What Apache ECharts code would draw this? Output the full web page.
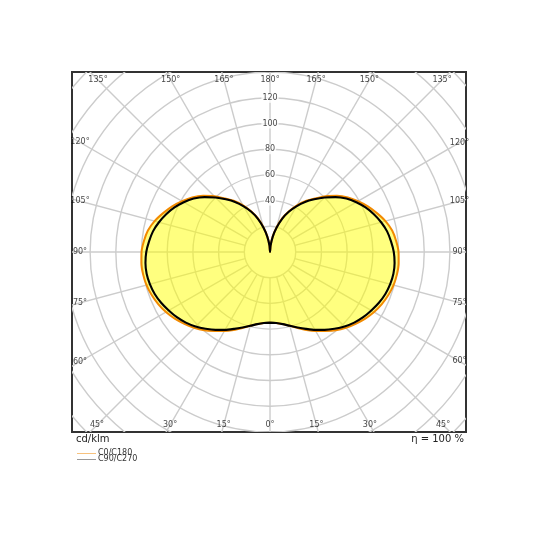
<!DOCTYPE html>
<html>
<head>
<meta charset="utf-8">
<script src="https://cdn.jsdelivr.net/npm/echarts@6/dist/echarts.min.js"></script>
<style>
  html, body { margin: 0; padding: 0; background: #fff; }
  #chart-container { width: 540px; height: 540px; }
</style>
</head>
<body>
<div id="chart-container"></div>
<script>
// gamma angles (0 = nadir, 180 = zenith) and intensities in cd/klm
var gammaDeg = [0, 5, 10, 15, 20, 25, 30, 35, 40, 45, 50, 55, 60, 65, 70, 75, 80, 85, 90,
  95, 100, 105, 110, 115, 120, 125, 130, 135, 140, 145, 150, 155, 160, 165, 170, 175, 180];
var c0c180 = [55, 55.5, 57, 59.5, 63, 67, 71, 75, 79.5, 83.5, 87, 90.5, 93.5, 96, 98, 99.5, 100.3, 100.5, 100,
  98.5, 96.5, 93, 88.5, 84, 79, 74, 68, 61.5, 54.5, 48.5, 42, 35, 28, 20, 12.5, 5, 0];
var c90c270 = [55, 55.5, 57, 59.5, 62.5, 66, 70, 74, 78, 82, 85.5, 88.5, 91, 93.5, 95.5, 96.8, 97.5, 97.3, 96.3,
  94.5, 92.5, 89.5, 86, 82, 77.5, 72.5, 66.5, 60, 53.5, 47.5, 41, 34.5, 27.5, 19.5, 12, 5, 0];

// grid
var ringValues = [20, 40, 60, 80, 100, 120, 140, 160, 180, 200, 220, 240];
var ringLabels = [40, 60, 80, 100, 120];
var angleTicks = [0, 15, 30, 45, 60, 75, 90, 105, 120, 135, 150, 165, 180];

var xMin = -154.1, xMax = 152.5, yMin = -140.1, yMax = 140.1;
var pxPerUnit = 394 / (xMax - xMin);

function toXY(g, v, side) {
  var a = g * Math.PI / 180;
  return [side * v * Math.sin(a), -v * Math.cos(a)];
}

// right half is C0 / C90, left half mirrored C180 / C270
function curve(values) {
  var pts = [];
  for (var i = 0; i < gammaDeg.length; i++) pts.push(toXY(gammaDeg[i], values[i], 1));
  for (var j = gammaDeg.length - 1; j >= 0; j--) pts.push(toXY(gammaDeg[j], values[j], -1));
  return pts;
}
var orangePts = curve(c0c180);
var blackPts = curve(c90c270);

// spokes every 15 degrees all round
var spokes = [];
angleTicks.forEach(function (g) {
  spokes.push([g, 1]);
  if (g > 0 && g < 180) spokes.push([g, -1]);
});

// angle labels sit on each spoke just inside the frame
function labelPos(g, side) {
  var d = toXY(g, 1, side);
  var insL = 8 / pxPerUnit, insR = 6.5 / pxPerUnit, insT = 8 / pxPerUnit, insB = 7 / pxPerUnit;
  var t = Infinity;
  if (d[0] > 1e-9) t = Math.min(t, (xMax - insR) / d[0]);
  if (d[0] < -1e-9) t = Math.min(t, (xMin + insL) / d[0]);
  if (d[1] > 1e-9) t = Math.min(t, (yMax - insT) / d[1]);
  if (d[1] < -1e-9) t = Math.min(t, (yMin + insB) / d[1]);
  return [d[0] * t, d[1] * t, g];
}
var angleLabelData = spokes.map(function (s) { return labelPos(s[0], s[1]); });

var dom = document.getElementById("chart-container");
var myChart = echarts.init(dom, null, { renderer: "canvas" });

var option = {
  animation: false,
  grid: {
    left: 72, right: 74, top: 72, bottom: 108,
    show: true, borderColor: "#333", borderWidth: 2, backgroundColor: "#fff"
  },
  xAxis: { type: "value", min: xMin, max: xMax, show: false },
  yAxis: { type: "value", min: yMin, max: yMax, show: false },
  series: [
    {
      // polar grid: rings + spokes
      type: "custom",
      clip: true,
      z: 1,
      silent: true,
      data: [[0, 0]],
      renderItem: function (params, api) {
        var c = api.coord([0, 0]);
        var children = ringValues.map(function (r) {
          return {
            type: "circle",
            shape: { cx: c[0], cy: c[1], r: api.size([r, 0])[0] },
            style: { fill: null, stroke: "#cccccc", lineWidth: 1.4 }
          };
        });
        spokes.forEach(function (s) {
          var p1 = api.coord(toXY(s[0], 20, s[1]));
          var p2 = api.coord(toXY(s[0], 320, s[1]));
          children.push({
            type: "line",
            shape: { x1: p1[0], y1: p1[1], x2: p2[0], y2: p2[1] },
            style: { stroke: "#cccccc", lineWidth: 1.4 }
          });
        });
        return { type: "group", children: children };
      }
    },
    {
      // yellow fill
      type: "custom",
      z: 2,
      silent: true,
      data: [[0, 0]],
      renderItem: function (params, api) {
        return {
          type: "polygon",
          shape: { points: orangePts.map(function (p) { return api.coord(p); }), smooth: 0.2 },
          style: { fill: "rgba(255,255,0,0.5)", stroke: null }
        };
      }
    },
    {
      name: "C0/C180",
      type: "line",
      z: 3,
      data: orangePts,
      smooth: 0.2,
      showSymbol: false,
      lineStyle: { color: "#f28a00", width: 2 }
    },
    {
      name: "C90/C270",
      type: "line",
      z: 4,
      data: blackPts,
      smooth: 0.2,
      showSymbol: false,
      lineStyle: { color: "#000", width: 2.1 }
    },
    {
      type: "scatter",
      z: 5,
      symbolSize: 1,
      itemStyle: { color: "rgba(0,0,0,0)" },
      data: ringLabels.map(function (r) { return [0, r]; }),
      label: {
        show: true, position: "inside",
        formatter: function (p) { return p.value[1]; },
        fontFamily: "DejaVu Sans", fontSize: 8, color: "#111",
        backgroundColor: "#fff", padding: [1, 1]
      }
    },
    {
      type: "scatter",
      z: 5,
      symbolSize: 1,
      itemStyle: { color: "rgba(0,0,0,0)" },
      data: angleLabelData,
      label: {
        show: true, position: "inside",
        formatter: function (p) { return p.value[2] + "°"; },
        fontFamily: "DejaVu Sans", fontSize: 8, color: "#111"
      }
    }
  ],
  graphic: [
    { type: "text", left: 76, top: 434,
      style: { text: "cd/klm", font: "10px DejaVu Sans", fill: "#222" } },
    { type: "text", right: 76, top: 434,
      style: { text: "η = 100 %", font: "10px DejaVu Sans", fill: "#222" } },
    { type: "line", shape: { x1: 77, y1: 453.5, x2: 96, y2: 453.5 },
      style: { stroke: "#f7c27e", lineWidth: 1 } },
    { type: "text", left: 98, top: 449,
      style: { text: "C0/C180", font: "8px DejaVu Sans", fill: "#333" } },
    { type: "line", shape: { x1: 77, y1: 459.5, x2: 96, y2: 459.5 },
      style: { stroke: "#999", lineWidth: 1 } },
    { type: "text", left: 98, top: 455,
      style: { text: "C90/C270", font: "8px DejaVu Sans", fill: "#333" } }
  ]
};

myChart.setOption(option);
window.addEventListener("resize", myChart.resize);
</script>
</body>
</html>
